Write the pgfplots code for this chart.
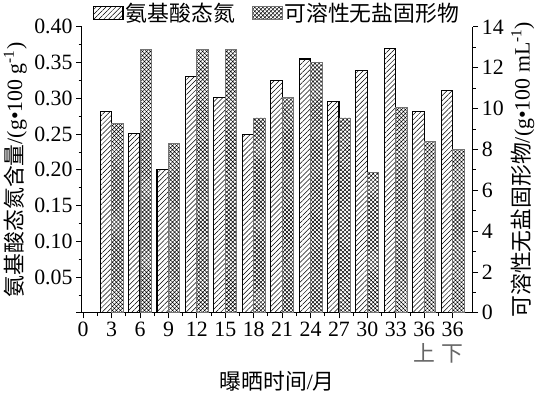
\documentclass[border=0pt]{standalone}
\usepackage{pgfplots}
\pgfplotsset{compat=1.18}
\usepackage{pgfplotstable}
\usepackage{fontspec}
\setmainfont{Liberation Serif}
\newfontfamily\cjk{Noto Sans CJK SC}
\usetikzlibrary{patterns,patterns.meta}

\pgfplotstableread{
idx a
1 0.281
2 0.251
3 0.200
4 0.331
5 0.301
6 0.249
7 0.325
8 0.355
9 0.295
10 0.339
11 0.370
12 0.281
13 0.311
}\amino

\pgfplotstableread{
idx s
1 9.28
2 12.88
3 8.31
4 12.91
5 12.88
6 9.54
7 10.56
8 12.26
9 9.54
10 6.88
11 10.05
12 8.40
13 8.00
}\solids

\pgfplotsset{
  base/.style={
    width=358pt, height=262pt, scale only axis,
    xmin=-0.05, xmax=13.7, ymin=0,
    bar width=10.5pt,
    tick align=outside,
    major tick length=5pt, minor tick length=3pt,
    every tick/.style={black, line width=0.8pt},
    axis line style={line width=1pt},
    ticklabel style={font=\fontsize{20}{20}\selectfont},
    /pgf/number format/assume math mode=true,
    label style={font=\fontsize{20}{22}\selectfont},
  },
  legimg/.style={legend image code/.code={\draw[##1] (0pt,-6pt) rectangle (27pt,6pt);}},
}

\begin{document}
\begin{tikzpicture}
\begin{axis}[base,
  ymax=0.40,
  axis y line*=left, axis x line*=bottom,
  ybar,
  xtick={0,...,13},
  xticklabels={0,3,6,9,12,15,18,21,24,27,30,33,{36\\[3pt]\textcolor{black!60}{\cjk 上}},{36\\[3pt]\textcolor{black!60}{\cjk 下}}},
  xticklabel style={align=center},
  minor x tick num=1,
  ytick={0,0.05,0.1,0.15,0.2,0.25,0.3,0.35,0.4},
  yticklabels={,0.05,0.10,0.15,0.20,0.25,0.30,0.35,0.40},
  minor y tick num=1,
  xlabel={{\cjk 曝晒时间}/{\cjk 月}},
  ylabel={{\cjk 氨基酸态氮含量}/(g•100 g\textsuperscript{-1})},
  legend style={at={(0.5,1.0)}, anchor=south, draw=none, fill=none,
    legend columns=2, font=\cjk\fontsize{20}{22}\selectfont,
    /tikz/every even column/.append style={column sep=14pt},
    inner sep=1pt},
  legimg,
]
\addplot[draw=black, line width=1pt, pattern={Lines[angle=45, distance=3.2pt, line width=0.45pt]}, bar shift=-5.25pt] table[x=idx,y=a]{\amino};
\addlegendentry{氨基酸态氮}
\addlegendimage{draw=black!55, line width=0.8pt, pattern={Hatch[angle=45, distance=2.6pt, line width=0.45pt]}}
\addlegendentry{可溶性无盐固形物}
\end{axis}
\begin{axis}[base,
  ymax=14,
  axis y line*=right, axis x line=none,
  ybar,
  ytick={0,2,...,14},
  minor y tick num=1,
  ylabel={{\cjk 可溶性无盐固形物}/(g•100 mL\textsuperscript{-1})},
]
\addplot[draw=black!55, line width=0.8pt, pattern={Hatch[angle=45, distance=2.6pt, line width=0.45pt]}, bar shift=5.25pt] table[x=idx,y=s]{\solids};
\end{axis}
\end{tikzpicture}
\end{document}
